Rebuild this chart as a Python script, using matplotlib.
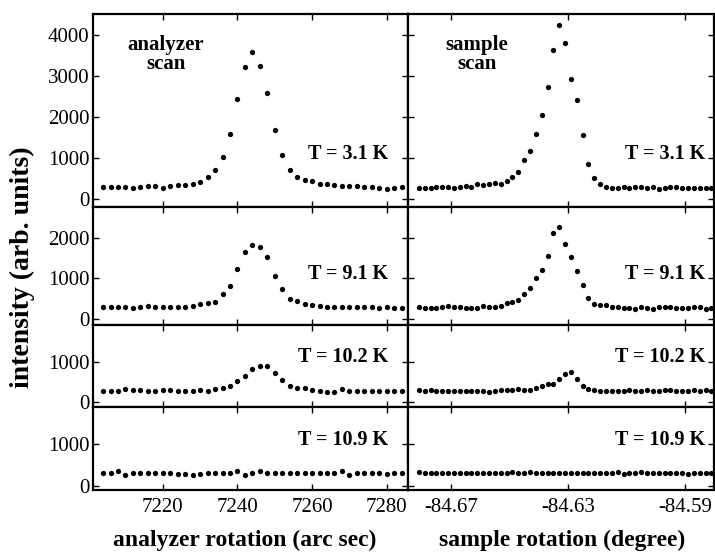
import matplotlib
matplotlib.use("Agg")
import matplotlib.pyplot as plt
import numpy as np

plt.rcParams['font.family'] = ['Liberation Serif', 'DejaVu Serif']

# analyzer scan positions (arc sec) and sample scan positions (degree)
ana_x = np.arange(7204, 7285, 2)
smp_x = np.round(np.arange(-84.681, -84.5805, 0.002), 3)

temps = ["T = 3.1 K", "T = 9.1 K", "T = 10.2 K", "T = 10.9 K"]

# analyzer scan intensities
ana_31 = [295, 295, 295, 295, 268, 300, 331, 310, 280, 330, 348, 350, 380, 421,
          550, 705, 1029, 1589, 2440, 3211, 3591, 3250, 2594, 1679, 1070, 713,
          543, 477, 445, 365, 360, 345, 318, 310, 310, 290, 285, 270, 250, 280, 290]
ana_91 = [293, 293, 293, 293, 285, 293, 334, 293, 310, 310, 293, 310, 326, 383,
          400, 432, 612, 824, 1233, 1641, 1821, 1780, 1527, 1069, 743, 498,
          440, 367, 350, 326, 310, 293, 293, 310, 293, 290, 290, 280, 290, 280, 280]
ana_102 = [287, 278, 278, 328, 295, 303, 278, 287, 295, 303, 287, 287, 287, 311,
           278, 319, 352, 410, 525, 656, 812, 902, 894, 722, 549, 410,
           352, 352, 303, 287, 262, 246, 319, 287, 287, 290, 280, 290, 280, 285, 290]
ana_109 = [304, 320, 352, 272, 304, 320, 320, 304, 320, 304, 288, 288, 272, 288,
           304, 304, 320, 320, 352, 256, 320, 352, 304, 304, 304, 304,
           304, 320, 304, 304, 304, 320, 352, 272, 304, 300, 300, 300, 280, 300, 300]

# sample scan intensities
smp_31 = [283, 283, 283, 291, 299, 307, 283, 307, 332, 307, 364, 356, 372, 405,
          364, 445, 551, 664, 948, 1183, 1597, 2051, 2724, 3625, 4249, 3811,
          2935, 2408, 1564, 851, 526, 380, 307, 267, 283, 291, 283, 291, 291,
          283, 291, 251, 283, 291, 291, 283, 283, 275, 283, 283, 283]
smp_91 = [293, 285, 269, 285, 301, 318, 301, 293, 269, 277, 285, 318, 301, 310,
          326, 391, 424, 481, 612, 759, 1012, 1208, 1551, 2123, 2254, 1846,
          1527, 1192, 849, 530, 383, 342, 342, 301, 293, 285, 277, 252, 293,
          277, 252, 310, 293, 293, 277, 277, 277, 310, 293, 252, 277]
smp_102 = [303, 278, 303, 287, 278, 287, 278, 287, 287, 287, 287, 287, 246, 278,
           303, 303, 303, 328, 303, 303, 360, 393, 459, 451, 574, 697,
           754, 574, 401, 328, 303, 287, 287, 287, 287, 287, 295, 287, 287,
           295, 287, 278, 303, 295, 287, 287, 278, 295, 287, 295, 287]
smp_109 = [330, 320, 315, 310, 305, 310, 305, 300, 310, 300, 300, 305, 310, 300,
           300, 320, 340, 310, 320, 330, 300, 310, 320, 300, 305, 310,
           305, 300, 305, 310, 300, 305, 310, 320, 330, 295, 320, 310, 330,
           310, 300, 305, 300, 310, 300, 300, 290, 300, 310, 300, 300]

ana = [ana_31, ana_91, ana_102, ana_109]
smp = [smp_31, smp_91, smp_102, smp_109]

ylims = [(-190, 4510), (-140, 2750), (-115, 1900), (-100, 1900)]
yticks = [[0, 1000, 2000, 3000, 4000], [0, 1000, 2000], [0, 1000], [0, 1000]]

fig = plt.figure(figsize=(7.15, 5.52), dpi=100)
gs = fig.add_gridspec(4, 2, height_ratios=[193, 118, 82, 83], width_ratios=[315, 306],
                      left=93/715, right=714/715, top=1-14/552, bottom=1-490/552,
                      hspace=0, wspace=0)

tpos = [0.275, 0.43, 0.61, 0.60]

for r in range(4):
    for c in range(2):
        ax = fig.add_subplot(gs[r, c])
        if c == 0:
            ax.plot(ana_x, ana[r], 'o', color='black', ms=3.8, mec='none')
            ax.set_xlim(7201.3, 7285.7)
            ax.set_xticks([7220, 7240, 7260, 7280])
        else:
            ax.plot(smp_x, smp[r], 'o', color='black', ms=3.8, mec='none')
            ax.set_xlim(-84.6847, -84.5801)
            ax.set_xticks([-84.67, -84.63, -84.59])
            ax.set_xticklabels(['-84.67', '-84.63', '-84.59'])
        ax.set_ylim(*ylims[r])
        ax.set_yticks(yticks[r])
        ax.tick_params(direction='in', top=True, right=True, length=4, width=1,
                       labelsize=15, pad=2.5)
        ax.tick_params(axis='x', pad=6)
        if c == 1:
            ax.tick_params(labelleft=False)
        if r < 3:
            ax.tick_params(labelbottom=False)
        for s in ax.spines.values():
            s.set_linewidth(1.6)
        tx = 0.937 if c == 0 else 0.971
        ax.text(tx, tpos[r], temps[r], transform=ax.transAxes, ha='right', va='center',
                fontsize=14.5, fontweight='bold')
        if r == 0:
            lbl = "analyzer\nscan" if c == 0 else "sample\nscan"
            xpos = 0.232 if c == 0 else 0.2245
            ax.text(xpos, 0.79, lbl, transform=ax.transAxes, ha='center', va='center',
                    fontsize=15, fontweight='bold', linespacing=0.92)

fig.text(0.342, 1-540/552, "analyzer rotation (arc sec)", ha='center', va='center',
         fontsize=17, fontweight='bold')
fig.text(0.786, 1-540/552, "sample rotation (degree)", ha='center', va='center',
         fontsize=17, fontweight='bold')
fig.text(22/715, 1-267/552, "intensity (arb. units)", ha='center', va='center',
         rotation=90, fontsize=20, fontweight='bold')

fig.savefig("out.png", dpi=100)
